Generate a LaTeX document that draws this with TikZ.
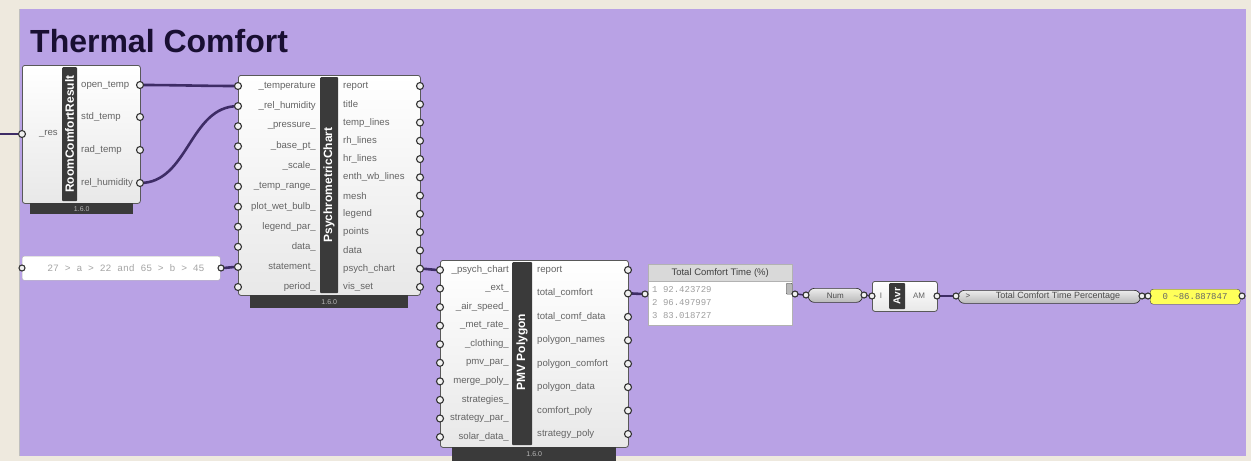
\documentclass[tikz,border=0pt]{standalone}
\usepackage{fontspec}
\setmainfont{Liberation Sans}
\newfontfamily\monof{Liberation Mono}
\usetikzlibrary{calc}
\definecolor{grp}{RGB}{185,162,229}
\definecolor{edgec}{RGB}{238,233,222}
\definecolor{wirec}{RGB}{62,44,102}
\definecolor{barc}{RGB}{58,58,58}
\definecolor{lblc}{RGB}{100,100,100}
\definecolor{titlec}{RGB}{25,15,50}
\definecolor{ylw}{RGB}{255,255,90}
\pgfdeclarelayer{bg}\pgfdeclarelayer{wl}\pgfsetlayers{bg,wl,main}
\begin{document}
\begin{tikzpicture}[x=1pt,y=-1pt,
 comp/.style={draw=gray!70!black, top color=white, bottom color=gray!18, rounded corners=2.5, line width=0.8, anchor=north west, inner sep=0},
 gbar/.style={fill=barc, anchor=north west, inner sep=0, rounded corners=1},
 foot/.style={fill=barc, anchor=north west, inner sep=0, text=gray!55, font=\fontsize{7}{8}\selectfont},
 lbl/.style={font=\fontsize{9.6}{11}\selectfont, text=lblc, inner sep=0},
 ttl/.style={font=\bfseries\fontsize{12}{13}\selectfont, text=white, rotate=90, inner sep=0},
 grip/.style={circle, draw=black!80, fill=gray!12, line width=1.1, minimum size=7, inner sep=0},
 wire/.style={draw=wirec, line width=2.6},
 twire/.style={draw=wirec, line width=1.5},
 capsule/.style={draw=gray!40!black, top color=gray!15, bottom color=gray!55, rounded corners=6, line width=0.7, anchor=north west, inner sep=0},
 mono/.style={font=\monof\fontsize{9}{10}\selectfont, text=gray!75, inner sep=0},
 ]
\useasboundingbox (0,0) rectangle (1251,461);
\begin{pgfonlayer}{bg}
\fill[edgec] (0,0) rectangle (1251,461);
\fill[grp] (19,9) rectangle (1246,456);
\draw[gray!50, line width=0.6] (19,9) -- (19,456);
\end{pgfonlayer}

% title
\node[anchor=base west, inner sep=0, font=\bfseries\fontsize{32}{34}\selectfont, text=titlec] (title) at (30,52) {Thermal Comfort};

% ---------- RoomComfortResult ----------
\node[comp, minimum width=118, minimum height=138] (rcr) at (22,65) {};
\node[gbar, minimum width=15, minimum height=134] (rcrbar) at (62,67) {};
\node[ttl] (rcrt) at (69.5,134) {RoomComfortResult};
\node[foot, minimum width=103, minimum height=11] (rcrf) at (30,203) {1.6.0};
\node[lbl, anchor=east] (rcri1) at (58,134) {\_res};
\node[grip] (rcrig1) at (22,134) {};
\coordinate (w0) at (0,134);
\foreach \t/\yy [count=\i] in {open\_temp/85, std\_temp/117, rad\_temp/150, rel\_humidity/183}{
  \node[lbl, anchor=west] (rcro\i) at (81,\yy) {\t};
  \node[grip] (rcrog\i) at (140,\yy) {};
}

% ---------- PsychrometricChart ----------
\node[comp, minimum width=182, minimum height=220] (pc) at (238,75) {};
\node[gbar, minimum width=18, minimum height=216] (pcbar) at (320,77) {};
\node[ttl] (pct) at (329,185) {PsychrometricChart};
\node[foot, minimum width=158, minimum height=13] (pcf) at (250,295) {1.6.0};
\foreach \t [count=\i] in {\_temperature, \_rel\_humidity, \_pressure\_, \_base\_pt\_, \_scale\_, \_temp\_range\_, plot\_wet\_bulb\_, legend\_par\_, data\_, statement\_, period\_}{
  \pgfmathsetmacro\yy{86+(\i-1)*20.1}
  \node[lbl, anchor=east] (pci\i) at (316,\yy) {\t};
  \node[grip] (pcig\i) at (238,\yy) {};
}
\foreach \t [count=\i] in {report, title, temp\_lines, rh\_lines, hr\_lines, enth\_wb\_lines, mesh, legend, points, data, psych\_chart, vis\_set}{
  \pgfmathsetmacro\yy{86+(\i-1)*18.27}
  \node[lbl, anchor=west] (pco\i) at (343,\yy) {\t};
  \node[grip] (pcog\i) at (420,\yy) {};
}

% ---------- statement panel ----------
\node[draw=gray!60, fill=white, rounded corners=2, minimum width=198, minimum height=24, anchor=north west, inner sep=0] (stp) at (22,256) {};
\node[font=\monof\fontsize{9.7}{10}\selectfont, text=gray!70, inner sep=0] (stpt) at (126,268) {27 > a > 22 and 65 > b > 45};
\node[grip, minimum size=6] (stpi) at (22,268) {};
\node[grip, minimum size=6] (stpo) at (221,268) {};

% ---------- PMV Polygon ----------
\node[comp, minimum width=188, minimum height=187] (pmv) at (440,260) {};
\node[gbar, minimum width=20, minimum height=183] (pmvbar) at (512,262) {};
\node[ttl] (pmvt) at (522,352) {PMV Polygon};
\node[foot, minimum width=164, minimum height=14] (pmvf) at (452,447) {1.6.0};
\foreach \t [count=\i] in {\_psych\_chart, \_ext\_, \_air\_speed\_, \_met\_rate\_, \_clothing\_, pmv\_par\_, merge\_poly\_, strategies\_, strategy\_par\_, solar\_data\_}{
  \pgfmathsetmacro\yy{270+(\i-1)*18.56}
  \node[lbl, anchor=east] (pmvi\i) at (509,\yy) {\t};
  \node[grip] (pmvig\i) at (440,\yy) {};
}
\foreach \t [count=\i] in {report, total\_comfort, total\_comf\_data, polygon\_names, polygon\_comfort, polygon\_data, comfort\_poly, strategy\_poly}{
  \pgfmathsetmacro\yy{270+(\i-1)*23.43}
  \node[lbl, anchor=west] (pmvo\i) at (537,\yy) {\t};
  \node[grip] (pmvog\i) at (628,\yy) {};
}

% ---------- Total Comfort Time panel ----------
\node[draw=gray!60, fill=white, minimum width=144, minimum height=61, anchor=north west, inner sep=0] (tct) at (648,264) {};
\node[draw=gray!60, fill=gray!30, minimum width=144, minimum height=17, anchor=north west, inner sep=0, font=\fontsize{9.5}{10}\selectfont, text=black!75] (tcth) at (648,264) {Total Comfort Time (\%)};
\begin{scope}
\clip (648,281) rectangle (792,325);
\node[mono, anchor=west] (tl1) at (652,290) {1 92.423729};
\node[mono, anchor=west] (tl2) at (652,303) {2 96.497997};
\node[mono, anchor=west] (tl3) at (652,316) {3 83.018727};
\end{scope}
\node[fill=gray!55, draw=gray!70!black, minimum width=6, minimum height=11, anchor=north west, inner sep=0, rounded corners=1] (tcts) at (786,283) {};
\node[grip, minimum size=6] (tctin) at (645,294) {};
\node[grip, minimum size=6] (tctout) at (795,294) {};

% ---------- Num ----------
\node[capsule, minimum width=54, minimum height=14, font=\fontsize{8}{9}\selectfont, text=black!70] (num) at (808,288) {Num};
\node[grip, minimum size=6] (numin) at (806,295) {};
\node[grip, minimum size=6] (numout) at (864,295) {};

% ---------- Average ----------
\node[comp, minimum width=65, minimum height=30] (avr) at (872,281) {};
\node[gbar, minimum width=16, minimum height=26] (avrbar) at (889,283) {};
\node[ttl, font=\bfseries\fontsize{10}{11}\selectfont] (avrt) at (897,296) {Avr};
\node[lbl, font=\fontsize{8}{9}\selectfont] (avri) at (881,296) {I};
\node[lbl, font=\fontsize{8}{9}\selectfont] (avro) at (919,296) {AM};
\node[grip, minimum size=6] (avrin) at (872,296) {};
\node[grip, minimum size=6] (avrout) at (937,296) {};

% ---------- Total Comfort Time Percentage ----------
\node[capsule, minimum width=182, minimum height=13] (cap) at (958,290) {};
\node[inner sep=0, font=\fontsize{8}{9}\selectfont, text=black!70] (capm) at (968,296.5) {>};
\node[inner sep=0, font=\fontsize{9}{10}\selectfont, text=black!70] (capt) at (1058,296.5) {Total Comfort Time Percentage};
\node[grip, minimum size=6] (capin) at (956,296) {};
\node[grip, minimum size=6] (capout) at (1142,296) {};

% ---------- yellow panel ----------
\node[draw=gray!50!black, fill=ylw, rounded corners=3, minimum width=90, minimum height=15, anchor=north west, inner sep=0] (yp) at (1150,289) {};
\node[font=\monof\fontsize{9}{10}\selectfont, text=black!60, inner sep=0] (ypt) at (1195,296.5) {0 \textasciitilde 86.887847};
\node[grip, minimum size=6] (ypin) at (1148,296) {};
\node[grip, minimum size=6] (ypout) at (1242,296) {};

% ---------- wires ----------
\begin{pgfonlayer}{wl}
\draw[wire] (w0) -- (rcrig1.center);
\draw[wire] (rcrog1.center) to[out=0,in=180] (pcig1.center);
\draw[wire] (rcrog4.center) to[out=0,in=180] (pcig2.center);
\draw[wire] (stpo.center) to[out=0,in=180] (pcig10.center);
\draw[wire] (pcog11.center) to[out=0,in=180] (pmvig1.center);
\draw[wire] (pmvog2.center) to[out=0,in=180] (tctin.center);
\draw[twire] (tctout.center) to[out=0,in=180] (numin.center);
\draw[twire] (numout.center) to[out=0,in=180] (avrin.center);
\draw[twire] (avrout.center) to[out=0,in=180] (capin.center);
\draw[twire] (capout.center) to[out=0,in=180] (ypin.center);
\end{pgfonlayer}
\end{tikzpicture}
\end{document}
